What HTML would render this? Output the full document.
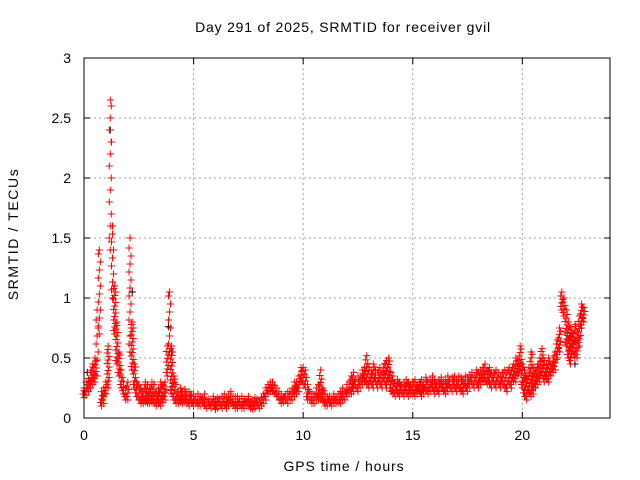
<!DOCTYPE html>
<html><head><meta charset="utf-8"><style>
body{margin:0;background:#fff}
svg{display:block;font-family:"Liberation Sans",sans-serif}
</style></head><body>
<svg id="chart" width="640" height="480" xmlns="http://www.w3.org/2000/svg">
<text x="343" y="32" font-size="14" letter-spacing="0.8" text-anchor="middle">Day 291 of 2025, SRMTID for receiver gvil</text>
<text x="344" y="471" font-size="14" letter-spacing="0.9" text-anchor="middle">GPS time / hours</text>
<text x="18" y="234" font-size="14" letter-spacing="1.6" text-anchor="middle" transform="rotate(-90 18 234)">SRMTID / TECUs</text>
<g id="grid"></g>
<g id="ticks"></g>
<g id="black"></g>
<g id="red"></g>
<rect x="84" y="58" width="526" height="360" fill="none" stroke="#000" stroke-width="1"/>
</svg>
<script>
const xTicks=[0,5,10,15,20];
const yTicks=[0,0.5,1,1.5,2,2.5,3];
const yTickLabels=["0","0.5","1","1.5","2","2.5","3"];
const startHour=0, stepHour=0.1;
const redLo=[.17,.19,.22,.25,.28,.30,.35,.70,.10,.12,
.20,.25,1.40,1.00,.70,.45,.35,.25,.20,.15,
.15,.55,.40,.25,.18,.15,.12,.12,.13,.12,
.12,.13,.12,.10,.12,.10,.13,.15,.35,.55,
.20,.15,.12,.12,.13,.12,.13,.12,.10,.12,
.10,.12,.10,.10,.12,.10,.08,.10,.08,.10,
.07,.08,.10,.08,.10,.08,.10,.12,.10,.08,
.08,.10,.08,.08,.10,.10,.08,.07,.08,.10,
.08,.10,.12,.15,.20,.22,.22,.20,.18,.15,
.12,.13,.15,.12,.15,.15,.18,.20,.22,.30,
.28,.25,.15,.15,.12,.12,.15,.15,.15,.14,
.10,.10,.12,.10,.12,.12,.13,.12,.15,.15,
.18,.20,.20,.22,.25,.22,.25,.28,.30,.28,
.25,.28,.25,.30,.25,.28,.25,.30,.25,.30,
.22,.20,.18,.20,.18,.20,.18,.20,.18,.20,
.20,.18,.20,.22,.18,.20,.22,.20,.22,.25,
.20,.22,.20,.25,.22,.20,.22,.25,.22,.25,
.22,.25,.22,.20,.25,.22,.25,.28,.25,.28,
.25,.28,.30,.30,.28,.28,.25,.28,.25,.28,
.25,.28,.25,.22,.28,.25,.30,.30,.35,.40,
.25,.18,.15,.20,.18,.20,.25,.28,.30,.35,
.30,.32,.30,.35,.38,.40,.50,.55,.90,.85,
.60,.50,.45,.55,.50,.50,.60,.75,.80];
const redHi=[.25,.30,.33,.38,.45,.50,.90,1.40,.22,.25,
.30,.60,2.65,1.60,1.10,.80,.55,.40,.30,.25,
.30,1.50,.80,.45,.30,.28,.25,.22,.30,.28,
.25,.30,.28,.22,.25,.30,.28,.30,.60,1.05,
.60,.35,.28,.22,.25,.22,.24,.20,.22,.20,
.20,.18,.20,.18,.17,.20,.15,.16,.14,.18,
.15,.17,.16,.18,.20,.17,.20,.22,.18,.18,
.18,.16,.18,.16,.15,.18,.14,.15,.17,.16,
.15,.17,.20,.25,.28,.30,.30,.27,.25,.22,
.20,.18,.20,.22,.22,.25,.30,.30,.35,.42,
.42,.40,.28,.22,.20,.20,.25,.28,.40,.25,
.20,.18,.18,.16,.20,.18,.20,.22,.25,.22,
.28,.30,.35,.38,.32,.35,.35,.40,.42,.52,
.42,.40,.45,.40,.38,.42,.38,.45,.48,.50,
.38,.35,.30,.32,.30,.28,.30,.32,.30,.28,
.30,.32,.28,.30,.32,.30,.34,.30,.32,.35,
.32,.30,.32,.34,.30,.32,.35,.32,.34,.35,
.32,.35,.34,.32,.35,.34,.36,.38,.35,.40,
.38,.40,.42,.45,.40,.42,.38,.38,.40,.38,
.35,.38,.40,.38,.42,.40,.45,.50,.48,.60,
.45,.40,.35,.42,.55,.42,.40,.45,.50,.58,
.48,.45,.50,.45,.50,.55,.65,.75,1.05,1.00,
.90,.80,.75,.70,.78,.72,.85,.95,.92];
const blackHours=[0.15,1.2,1.25,2.1,2.2,3.85,3.9,4.0,19.8,22.4];
const blackVals=[0.38,2.4,2.3,1.5,1.05,0.76,1.05,0.55,0.48,0.45];

const NS="http://www.w3.org/2000/svg";
const X0=84,X1=610,Y0=418,Y1=58,XMAX=24,YMAX=3;
const xs=h=>X0+h/XMAX*(X1-X0);
const ys=v=>Y0-v/YMAX*(Y0-Y1);
function mk(tag,attrs,parent){const e=document.createElementNS(NS,tag);for(const k in attrs)e.setAttribute(k,attrs[k]);parent.appendChild(e);return e;}
const grid=document.getElementById('grid'),ticks=document.getElementById('ticks');
xTicks.forEach(t=>{
  const x=xs(t);
  if(t>0){const g=mk('line',{x1:x,x2:x,y1:Y1,y2:Y0,stroke:'#a0a0a0','stroke-dasharray':'2,3'},grid);
  
  }
  mk('line',{x1:x,x2:x,y1:Y0,y2:Y0-6,stroke:'#000'},ticks);
  mk('line',{x1:x,x2:x,y1:Y1,y2:Y1+6,stroke:'#000'},ticks);
  const l=mk('text',{x:x,y:Y0+22,'font-size':14,'text-anchor':'middle'},ticks);
  l.textContent=String(t);
  
  
});
yTicks.forEach((t,i)=>{
  const y=ys(t);
  if(t>0&&t<3){const g=mk('line',{x1:X0,x2:X1,y1:y,y2:y,stroke:'#a0a0a0','stroke-dasharray':'2,3'},grid);
  
  }
  mk('line',{x1:X0,x2:X0+6,y1:y,y2:y,stroke:'#000'},ticks);
  mk('line',{x1:X1,x2:X1-6,y1:y,y2:y,stroke:'#000'},ticks);
  const l=mk('text',{x:X0-13,y:y+5,'font-size':14,'text-anchor':'end'},ticks);
  l.textContent=yTickLabels[i];
  
  
});
function plus(g,x,y,c){
  const p=mk('path',{d:`M${x-3.5},${y}h7M${x},${y-3.5}v7`,stroke:c,'stroke-width':1,fill:'none'},g);
  
  
}
const bg=document.getElementById('black');
blackHours.forEach((h,i)=>plus(bg,xs(h),ys(blackVals[i]),'#000'));
const rg=document.getElementById('red');
redLo.forEach((lo,i)=>{
  const h=startHour+i*stepHour, x=xs(h);
  const yl=ys(lo), yh=ys(redHi[i]);
  plus(rg,x,yl,'#f00');plus(rg,x,yh,'#f00');
  const gap=yl-yh;
  const step=gap<50?3.5:(gap<120?8:12);
  let k=0;
  for(let y=yl-step;y>yh+2;y-=step){plus(rg,x+((k++%3)-1),y,'#f00');}
});
</script>
</body></html>
